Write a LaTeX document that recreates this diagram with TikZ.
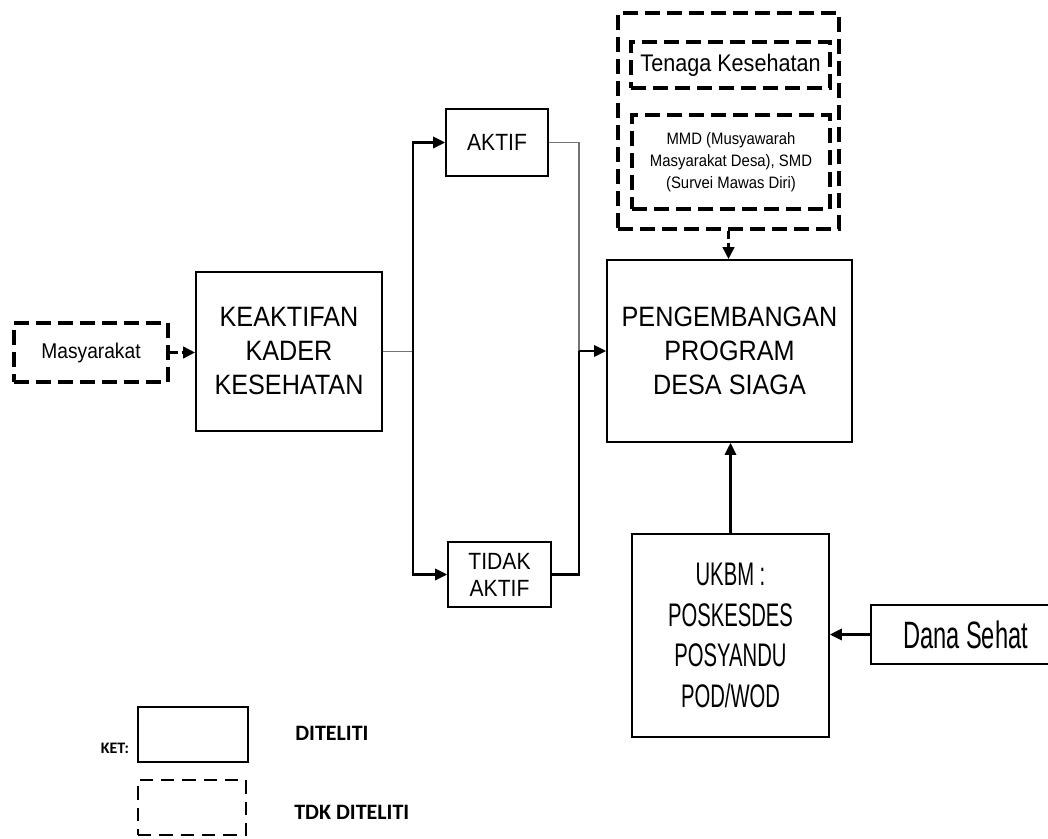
\documentclass[tikz,border=0pt]{standalone}
\usepackage{fontspec}
\setmainfont{Liberation Sans}
\newfontfamily\narrowfont[FakeStretch=0.9]{Liberation Sans}
\newfontfamily\condfont[FakeStretch=0.62]{Liberation Sans}
\newfontfamily\ketfont{Carlito}
\usetikzlibrary{arrows.meta}

\tikzset{
  solidbox/.style={draw,line width=1.3pt,align=center,inner sep=0pt},
  dashbox/.style={draw,line width=2.6pt,dash pattern=on 11pt off 5.5pt,align=center,inner sep=0pt},
  conn/.style={line width=1.8pt,-{Triangle[length=9pt,width=8.5pt]}},
  dashconn/.style={line width=2.6pt,dash pattern=on 6pt off 3pt,-{Triangle[length=9pt,width=8.5pt]}},
  greyline/.style={line width=1pt,color=black!55},
}

\begin{document}
\begin{tikzpicture}[x=0.75pt,y=0.75pt,yscale=-1]
\useasboundingbox (0,0) rectangle (1048,838);

% Shape: Rectangle [masyarakat]
\node [dashbox,minimum width=115.5pt,minimum height=44.25pt,font=\narrowfont\fontsize{16}{19}\selectfont] (masy) at (91,352.5) {Masyarakat};
% Shape: Rectangle [keaktifan]
\node [solidbox,minimum width=139.5pt,minimum height=119.25pt,font=\narrowfont\fontsize{21}{25.5}\selectfont] (keak) at (289,351.5) {KEAKTIFAN\\KADER\\KESEHATAN};
% Shape: Rectangle [aktif]
\node [solidbox,minimum width=76.5pt,minimum height=50.25pt,font=\narrowfont\fontsize{17.6}{20.3}\selectfont] (aktif) at (497,142.5) {AKTIF};
% Shape: Rectangle [tidak aktif]
\node [solidbox,minimum width=77.25pt,minimum height=48.75pt,font=\narrowfont\fontsize{17.6}{20.3}\selectfont] (tidak) at (499.5,574.5) {TIDAK\\AKTIF};
% Shape: Rectangle [pengembangan]
\node [solidbox,minimum width=183.75pt,minimum height=136.5pt,font=\narrowfont\fontsize{21}{25.5}\selectfont] (pengem) at (729.5,351) {PENGEMBANGAN\\PROGRAM\\DESA SIAGA};
% Shape: Rectangle [luar]
\node [dashbox,minimum width=165.75pt,minimum height=162pt] (luar) at (728.5,121) {};
% Shape: Rectangle [tenaga]
\node [dashbox,minimum width=149.25pt,minimum height=34.5pt,font=\narrowfont\fontsize{18}{21}\selectfont] (tenaga) at (730.5,65) {Tenaga Kesehatan};
% Shape: Rectangle [mmd]
\node [dashbox,minimum width=148.5pt,minimum height=70.5pt,font=\narrowfont\fontsize{12.4}{16.5}\selectfont] (mmd) at (731,162) {MMD (Musyawarah\\Masyarakat Desa), SMD\\(Survei Mawas Diri)};
% Shape: Rectangle [ukbm]
\node [solidbox,minimum width=147.75pt,minimum height=152.25pt,font=\condfont\fontsize{24.5}{30.5}\selectfont] (ukbm) at (730.5,635.5) {UKBM :\\POSKESDES\\POSYANDU\\POD/WOD};
% Shape: Rectangle [dana sehat]
\node [solidbox,minimum width=141.75pt,minimum height=44.25pt,font=\condfont\fontsize{28.6}{30}\selectfont] (dana) at (965.5,634.5) {Dana Sehat};

% Lines
\coordinate (fork) at (413,351.5);
\coordinate (join) at (579,351);
\draw [dashconn] (masy.east) -- (masy.east -| keak.west);
\draw [greyline] (keak.east) -- (fork);
\draw [conn] (fork) |- (aktif.west);
\draw [conn] (fork) |- (tidak.west);
\draw [greyline] (aktif.east) -| (join);
\draw [line width=1.8pt] (tidak.east) -| (join);
\draw [conn] (join) -- (join -| pengem.west);
\draw [dashconn] (luar.south) -- (luar.south |- pengem.north);
\draw [conn] (ukbm.north) -- (ukbm.north |- pengem.south);
\draw [conn] (dana.west) -- (dana.west -| ukbm.east);

% Keterangan
\node [font=\ketfont\bfseries\fontsize{12}{14}\selectfont] (ket) at (115,748) {KET:};
\node [draw,line width=2.2pt,minimum width=82.5pt,minimum height=41.25pt] (ketsolid) at (193,734.5) {};
\node [draw,line width=2.2pt,dash pattern=on 10pt off 6pt,minimum width=81pt,minimum height=41.25pt] (ketdash) at (192,807.5) {};
\node [anchor=west,inner sep=0pt,font=\ketfont\bfseries\fontsize{16.5}{19}\selectfont] (diteliti) at (295,733) {DITELITI};
\node [anchor=west,inner sep=0pt,font=\ketfont\bfseries\fontsize{16.5}{19}\selectfont] (tdkditeliti) at (294,812) {TDK DITELITI};
\end{tikzpicture}
\end{document}
